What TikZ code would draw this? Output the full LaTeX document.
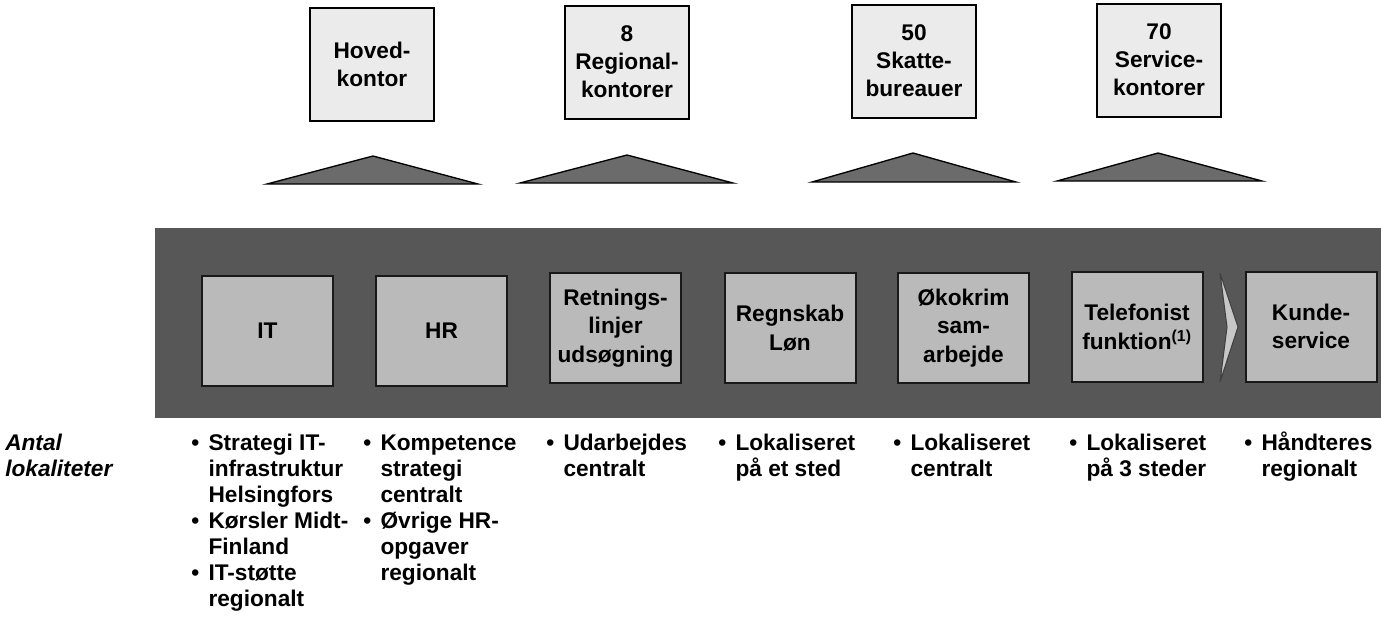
\documentclass[tikz,border=0pt]{standalone}
\usepackage{fontspec}
\setmainfont{Liberation Sans}
\begin{document}
\begin{tikzpicture}[x=0.75pt,y=-0.75pt]
\tikzset{
  topbox/.style={draw=black, line width=1.5pt, fill=black!8, inner sep=0pt,
    minimum width=93pt, minimum height=84.75pt, align=center,
    font=\bfseries\fontsize{17}{21}\selectfont},
  procbox/.style={draw=black!90, line width=1.5pt, fill=black!27, inner sep=0pt,
    minimum width=98.25pt, minimum height=82.5pt, align=center,
    font=\bfseries\fontsize{17}{21.5}\selectfont},
  bandfill/.style={fill=black!66},
  tri/.style={draw=black, line width=1pt, fill=black!58, line join=miter},
  chev/.style={draw=black!75, line width=0.8pt, fill=black!22},
  bulletcol/.style={anchor=base west, inner sep=0pt,
    font=\bfseries\fontsize{17}{19.5}\selectfont},
}
\useasboundingbox (0,0) rectangle (1381,621);

% top office boxes
\node[topbox] (hk) at (372,64) {Hoved-\\kontor};
\node[topbox] (rk) at (627,62) {8\\Regional-\\kontorer};
\node[topbox] (sb) at (914,61) {50\\Skatte-\\bureauer};
\node[topbox] (sk) at (1159,60) {70\\Service-\\kontorer};

% triangles
\draw[tri] (267,184) -- (373,156) -- (478,184) -- cycle;
\draw[tri] (520,183) -- (627,155) -- (733,183) -- cycle;
\draw[tri] (812,182) -- (913,153) -- (1016,182) -- cycle;
\draw[tri] (1057,181) -- (1158,153) -- (1262,181) -- cycle;

% dark band
\path[bandfill] (155,228) rectangle (1381,418);

% process boxes
\node[procbox] (it) at (267.5,330.5) {IT};
\node[procbox] (hr) at (441.5,330.5) {HR};
\node[procbox] (rl) at (615.5,328) {Retnings-\\linjer\\udsøgning};
\node[procbox] (rg) at (790,328) {Regnskab\\Løn};
\node[procbox] (ok) at (963.5,328) {Økokrim\\sam-\\arbejde};
\node[procbox] (tf) at (1137,327) {Telefonist\\funktion\textsuperscript{(1)}};
\node[procbox] (ks) at (1311,326.5) {Kunde-\\service};

% chevron between Telefonist and Kundeservice
\draw[chev] (1220,273) -- (1238,327) -- (1220,382) -- (1227,327) -- cycle;

% labels below
\node[bulletcol] (al) at (5,450) {\itshape\begin{tabular}[t]{@{}l@{}}Antal\\lokaliteter\end{tabular}};
\node[bulletcol] (c1) at (191,450) {\begin{tabular}[t]{@{}l@{\hspace{7pt}}l@{}}\textbullet & Strategi IT-\\ & infrastruktur\\ & Helsingfors\\ \textbullet & Kørsler Midt-\\ & Finland\\ \textbullet & IT-støtte\\ & regionalt\end{tabular}};
\node[bulletcol] (c2) at (363,450) {\begin{tabular}[t]{@{}l@{\hspace{7pt}}l@{}}\textbullet & Kompetence\\ & strategi\\ & centralt\\ \textbullet & Øvrige HR-\\ & opgaver\\ & regionalt\end{tabular}};
\node[bulletcol] (c3) at (546,450) {\begin{tabular}[t]{@{}l@{\hspace{7pt}}l@{}}\textbullet & Udarbejdes\\ & centralt\end{tabular}};
\node[bulletcol] (c4) at (718,450) {\begin{tabular}[t]{@{}l@{\hspace{7pt}}l@{}}\textbullet & Lokaliseret\\ & på et sted\end{tabular}};
\node[bulletcol] (c5) at (893,450) {\begin{tabular}[t]{@{}l@{\hspace{7pt}}l@{}}\textbullet & Lokaliseret\\ & centralt\end{tabular}};
\node[bulletcol] (c6) at (1069,450) {\begin{tabular}[t]{@{}l@{\hspace{7pt}}l@{}}\textbullet & Lokaliseret\\ & på 3 steder\end{tabular}};
\node[bulletcol] (c7) at (1244,450) {\begin{tabular}[t]{@{}l@{\hspace{7pt}}l@{}}\textbullet & Håndteres\\ & regionalt\end{tabular}};
\end{tikzpicture}
\end{document}
